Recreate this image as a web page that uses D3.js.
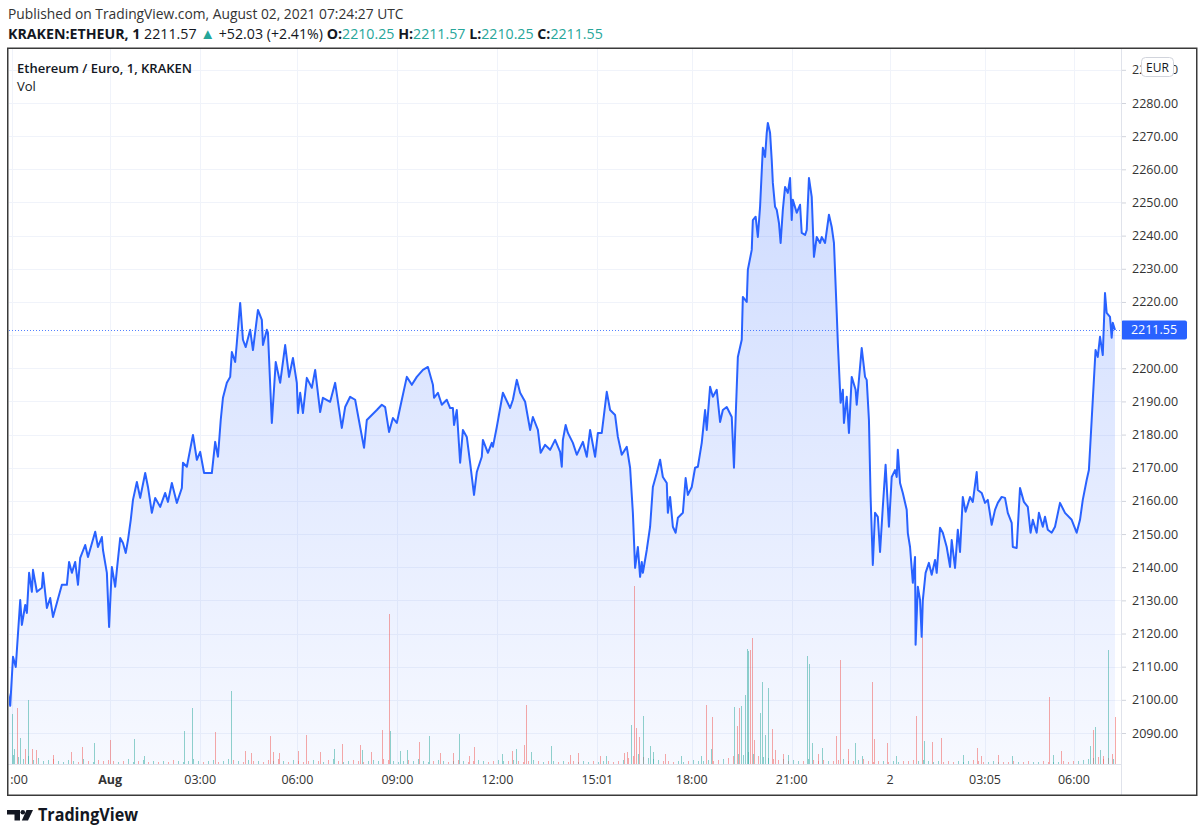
<!DOCTYPE html>
<html><head><meta charset="utf-8">
<script src="https://cdn.jsdelivr.net/npm/d3@7/dist/d3.min.js"></script>
<style>
body{margin:0;background:#fff;}
svg{display:block;font-family:"Open Sans",sans-serif;}
</style>
</head><body>
<svg id="chart" width="1200" height="837"></svg>
<script>
// ---- DATA ----
// [bar index (1-minute bars from 20:53 UTC Jul 31), close price EUR]
const ethEur = [
[0,2102.1],[4,2098.2],[9,2113.0],[14,2109.9],[22,2130.1],[25,2122.6],[31,2128.6],[34,2126.2],[38,2138.3],[43,2132.6],[45,2139.2],[52,2132.6],[61,2133.8],[63,2138.3],[70,2127.7],[76,2130.7],[81,2125.0],[97,2134.7],[106,2134.7],[110,2141.6],[115,2138.3],[121,2141.6],[126,2134.7],[130,2142.8],[139,2146.7],[144,2143.1],[157,2150.7],[162,2146.1],[169,2149.1],[171,2145.2],[178,2138.3],[182,2122.0],[187,2140.1],[193,2134.1],[196,2139.2],[202,2148.8],[207,2147.3],[212,2144.3],[216,2148.2],[221,2154.3],[225,2160.3],[232,2165.7],[238,2160.9],[247,2168.4],[252,2164.2],[259,2156.4],[265,2160.9],[274,2158.2],[283,2162.4],[288,2159.7],[295,2165.4],[304,2159.4],[313,2163.9],[315,2171.5],[322,2170.3],[333,2179.9],[340,2172.4],[346,2174.8],[353,2168.4],[367,2168.4],[373,2177.8],[378,2173.3],[383,2184.4],[387,2191.1],[394,2195.6],[400,2197.4],[403,2204.9],[409,2201.9],[412,2207.7],[418,2219.7],[423,2208.6],[428,2206.4],[436,2211.6],[441,2205.5],[450,2217.6],[457,2214.6],[459,2207.0],[466,2211.6],[468,2210.7],[475,2183.5],[482,2201.9],[490,2195.6],[499,2207.0],[506,2197.4],[513,2203.1],[520,2195.6],[522,2186.5],[526,2192.6],
[531,2186.5],[538,2197.1],[547,2194.1],[553,2199.5],[562,2186.8],[567,2191.1],[580,2189.9],[589,2195.6],[601,2182.0],[607,2188.3],[616,2191.4],[625,2190.5],[634,2182.3],[641,2176.0],[646,2184.4],[664,2187.4],[673,2189.0],[679,2188.3],[686,2180.8],[693,2185.0],[700,2183.5],[709,2190.5],[718,2197.4],[727,2195.0],[736,2197.4],[747,2199.5],[756,2200.4],[765,2195.0],[767,2191.1],[774,2192.6],[781,2189.0],[790,2190.5],[796,2188.0],[801,2188.0],[803,2182.9],[808,2187.4],[814,2171.5],[819,2181.4],[826,2179.3],[832,2171.5],[839,2161.8],[844,2168.7],[853,2173.3],[855,2178.4],[864,2174.5],[871,2177.5],[873,2176.3],[880,2182.3],[891,2192.6],[904,2188.0],[909,2190.5],[916,2196.5],[922,2192.6],[931,2189.9],[940,2181.4],[945,2185.3],[954,2181.4],[959,2174.5],[967,2176.9],[976,2175.4],[985,2178.4],[994,2174.8],[997,2170.3],[999,2178.4],[1004,2182.9],[1008,2180.5],[1017,2177.5],[1024,2173.9],[1035,2177.8],[1042,2173.3],[1048,2181.4],[1057,2173.3],[1062,2180.5],[1069,2180.5],[1078,2192.9],[1084,2187.4],[1093,2185.9],[1098,2179.3],[1105,2173.9],[1114,2176.3],[1120,2170.0],[1125,2156.4],[1129,2139.8],[1134,2146.1],[1138,2137.1],
[1141,2141.6],[1143,2138.3],[1150,2145.2],[1156,2152.2],[1161,2164.2],[1168,2168.4],[1174,2172.4],[1179,2167.2],[1186,2165.4],[1188,2156.4],[1192,2161.2],[1197,2152.2],[1202,2150.4],[1206,2154.9],[1215,2156.4],[1220,2166.9],[1224,2161.8],[1231,2164.2],[1237,2170.0],[1242,2170.3],[1249,2177.5],[1255,2187.4],[1258,2181.4],[1264,2194.4],[1269,2191.4],[1276,2193.5],[1282,2183.8],[1287,2187.4],[1294,2188.3],[1303,2185.3],[1307,2170.0],[1310,2185.0],[1314,2203.4],[1321,2208.6],[1323,2221.5],[1330,2220.0],[1332,2229.7],[1339,2235.7],[1341,2244.7],[1346,2245.7],[1350,2239.6],[1354,2248.7],[1359,2266.5],[1363,2263.7],[1366,2271.0],[1368,2274.0],[1372,2271.0],[1375,2262.8],[1377,2255.9],[1381,2248.7],[1384,2247.8],[1388,2243.8],[1391,2237.8],[1395,2247.8],[1399,2254.7],[1404,2252.9],[1408,2257.4],[1411,2244.7],[1413,2250.8],[1420,2246.9],[1426,2249.3],[1429,2240.8],[1435,2240.2],[1438,2241.7],[1442,2257.4],[1447,2251.7],[1451,2233.6],[1456,2239.6],[1462,2237.8],[1465,2239.6],[1471,2237.8],[1478,2246.3],[1483,2242.6],[1487,2237.8],[1492,2216.7],[1494,2207.7],[1499,2189.6],[1503,2193.5],[1505,2183.5],[1510,2191.4],[1514,2180.5],[1519,2197.4],[1526,2193.5],[1528,2189.0],[1537,2206.1],[1543,2197.4],[1546,2196.5],[1550,2184.4],[1553,2161.2],[1557,2140.7],[1561,2156.4],[1566,2155.2],[1570,2144.6],[1575,2158.2],[1580,2170.9],[1586,2152.2],[1591,2167.2],[1597,2169.3],[1600,2167.2],[1602,2175.4],[1606,2165.4],[1611,2162.4],[1618,2157.3],[1620,2150.3],[1624,2146.1],[1629,2135.3],[1633,2143.1],[1634,2116.6],[1638,2134.1],[1642,2130.1],[1645,2119.0],[1647,2130.1],[1652,2138.3],[1658,2141.3],[1663,2137.7],[1669,2142.2],[1672,2138.3],[1678,2151.9],[1683,2150.4],[1690,2146.1],[1696,2140.1],[1699,2148.2],[1705,2139.8],[1710,2151.3],[1714,2144.6],[1719,2161.2],[1724,2156.7],[1732,2161.2],[1737,2159.7],[1744,2168.7],[1746,2163.3],[1753,2162.4],[1759,2159.4],[1764,2160.3],[1771,2152.8],[1777,2157.3],[1782,2159.4],[1789,2161.2],[1795,2160.9],[1800,2156.4],[1807,2153.4],[1809,2146.1],[1816,2145.8],[1822,2163.9],[1829,2159.7],[1836,2158.2],[1841,2150.4],[1845,2154.3],[1852,2150.4],[1856,2156.4],[1863,2152.2],[1867,2155.2],[1872,2151.3],[1879,2150.4],[1885,2152.2],[1894,2159.4],[1903,2156.4],[1915,2154.3],[1924,2150.4],[1930,2154.3],[1935,2160.3],[1942,2166.3],[1946,2169.3],[1951,2184.4],[1955,2196.5],[1958,2205.5],[1962,2203.4],[1966,2209.5],[1971,2204.0],[1975,2222.7],[1978,2216.7],[1984,2215.5],[1987,2209.2],[1989,2213.7],[1993,2211.55]
];

// notable volume bars: [bar index, volume, up(1)/down(0)]
const volumeBig = [
[7,50,1],[11,15,1],[16,56,0],[22,26,1],[31,15,0],[36,64,1],[43,15,0],[50,14,0],[81,9,0],[113,12,0],[133,17,0],[155,21,1],[184,24,0],[227,25,1],[245,8,1],[317,33,1],[331,56,1],[373,32,0],[401,73,1],[427,13,0],[437,11,0],[472,28,0],[477,12,0],[488,11,0],[522,13,0],[536,29,0],[562,12,0],[587,15,1],[601,20,0],[634,19,0],[637,14,1],[653,12,0],
[673,34,0],[686,150,0],[688,33,1],[706,13,1],[718,14,1],[740,22,0],[758,28,1],[778,11,0],[801,11,0],[812,30,1],[830,8,0],[839,17,0],[889,10,1],[907,13,0],[914,15,1],[929,19,0],[932,59,0],[941,12,1],[977,18,1],[1012,9,0],[1026,11,0],[1066,8,0],[1076,8,1],[1109,11,0],[1114,12,0],[1121,39,1],[1127,178,0],[1130,36,0],[1136,27,0],[1143,48,1],[1156,18,1],[1161,12,1],[1183,10,0],[1211,8,1],[1247,8,1],[1256,59,0],[1265,15,1],[1267,47,0],
[1307,57,1],[1312,38,0],[1316,56,0],[1319,58,1],[1327,69,1],[1330,115,1],[1332,113,1],[1336,114,0],[1339,126,0],[1343,24,0],[1354,51,1],[1357,82,1],[1363,29,1],[1368,76,1],[1375,35,0],[1381,14,0],[1395,10,0],[1404,9,1],[1438,108,1],[1442,100,1],[1447,21,1],[1458,10,0],[1465,16,1],[1490,28,0],[1498,104,0],[1512,15,0],[1525,21,1],[1537,8,1],[1555,82,0],[1559,25,0],[1582,21,0],[1598,8,1],
[1634,48,0],[1645,127,0],[1649,23,1],[1663,22,0],[1679,26,0],[1719,9,1],[1744,16,0],[1751,8,0],[1782,9,0],[1807,8,1],[1874,67,0],[1881,9,1],[1895,13,0],[1948,18,1],[1953,34,0],[1957,37,1],[1966,14,1],[1971,8,0],[1980,114,1],[1987,10,0],[1993,47,0]
];

// background volume, one value every 9 bars starting at bar 0
const volumeSmall = [
6,9,7,5,8,4,6,3,4,5, 3,2,4,3,2,5,3,2,4,3, 4,3,2,3,5,2,3,4,2,3, 2,3,2,4,3,2,3,5,3,2,
3,4,2,3,5,4,3,2,4,3, 3,2,4,3,5,3,2,4,3,2, 3,4,3,2,4,5,3,2,3,4, 3,2,3,4,3,5,4,3,2,3,
4,3,5,3,2,3,4,3,2,3, 4,3,2,3,4,3,2,3,4,3, 3,4,3,2,3,4,3,2,3,3, 2,3,2,3,2,3,2,3,2,3,
3,2,3,4,6,8,10,7,6,5, 4,3,3,2,3,2,3,4,3,3, 4,3,4,5,6,8,10,9,12,10, 8,7,6,5,4,5,3,4,3,3,
5,4,3,4,3,3,4,5,3,3, 4,5,3,2,3,3,2,3,2,3, 3,4,3,4,3,2,3,2,3,2, 3,2,3,4,3,2,2,3,2,2,
2,3,2,2,3,2,2,3,2,2, 2,3,2,3,3,4,5,6,7,5, 6,5
];
const smallStep = 9;

const timeTickBars   = [7, 184, 346, 521, 701, 881, 1061, 1231, 1411, 1588, 1759, 1919];
const timeTickLabels = ["21:00","Aug","03:00","06:00","09:00","12:00","15:01","18:00","21:00","2","03:05","06:00"];
const boldTimeLabels = ["Aug"];
const priceTicks = [2090,2100,2110,2120,2130,2140,2150,2160,2170,2180,2190,2200,2210,2220,2230,2240,2250,2260,2270,2280,2290];
const lastPrice = 2211.55;
const ohlc = {O:"2210.25", H:"2211.57", L:"2210.25", C:"2211.55"};
const quote = {last:"2211.57", change:"+52.03 (+2.41%)"};

// ---- LAYOUT ----
const L = 8, R = 1121, T = 49, B = 764, FR = 1197, FB = 796;
const svg = d3.select("#chart");
const x = d3.scaleLinear().domain([0, 1993]).range([8, 1115]);
const y = d3.scaleLinear().domain([2090, 2280]).range([733, 103]);
const yv = d3.scaleLinear().domain([0, 200]).range([B, B - 200]);

const UP = "rgba(38,166,154,0.5)", DOWN = "rgba(239,83,80,0.5)", BLUE = "#2962ff";

const defs = svg.append("defs");
defs.append("clipPath").attr("id","plot").append("rect")
  .attr("x", L+1).attr("y", T).attr("width", R-L-1).attr("height", B-T);
defs.append("clipPath").attr("id","taxis").append("rect")
  .attr("x", L+1).attr("y", B).attr("width", R-L-1).attr("height", FB-B);
const grad = defs.append("linearGradient").attr("id","areaGrad")
  .attr("gradientUnits","userSpaceOnUse").attr("x1",0).attr("x2",0)
  .attr("y1", y(d3.max(ethEur, d=>d[1]))).attr("y2", B);
grad.append("stop").attr("offset",0).attr("stop-color","rgba(41,98,255,0.24)");
grad.append("stop").attr("offset",1).attr("stop-color","rgba(41,98,255,0.04)");

// header
svg.append("text").attr("x",8).attr("y",19).attr("font-size",13.8).attr("fill","#333")
  .text("Published on TradingView.com, August 02, 2021 07:24:27 UTC");
const h2 = svg.append("text").attr("x",8).attr("y",39).attr("font-size",14.2).attr("fill","#131722");
h2.append("tspan").attr("font-weight",700).text("KRAKEN:ETHEUR, 1 ");
h2.append("tspan").text(quote.last + " ");
h2.append("tspan").attr("fill","#26a69a").attr("font-size",15).text("▲");
h2.append("tspan").text(" " + quote.change + " ");
Object.entries(ohlc).forEach(([k,v]) => {
  h2.append("tspan").attr("font-weight",700).text(k + ":");
  h2.append("tspan").attr("fill","#26a69a").text(v + " ");
});

// grid
const plot = svg.append("g");
plot.selectAll("line.hg").data(priceTicks).join("line")
  .attr("x1", L+1).attr("x2", R).attr("y1", d=>Math.round(y(d))+0.5).attr("y2", d=>Math.round(y(d))+0.5)
  .attr("stroke","#f0f3fa").attr("stroke-width",1);
plot.selectAll("line.vg").data(timeTickBars).join("line")
  .attr("x1", d=>Math.round(x(d))+0.5).attr("x2", d=>Math.round(x(d))+0.5).attr("y1", T).attr("y2", B)
  .attr("stroke","#f0f3fa").attr("stroke-width",1);

const clipG = svg.append("g").attr("clip-path","url(#plot)");

// area
clipG.append("path").datum(ethEur)
  .attr("d", d3.area().x(d=>x(d[0])).y0(B).y1(d=>y(d[1])))
  .attr("fill","url(#areaGrad)");

// volume
const bis = d3.bisector(d=>d[0]).left;
function isUp(bar){
  let i = bis(ethEur, bar); if (i < 1) i = 1; if (i >= ethEur.length) i = ethEur.length-1;
  return ethEur[i][1] >= ethEur[i-1][1];
}
const vg = clipG.append("g").attr("shape-rendering","crispEdges");
vg.selectAll("rect.vs").data(volumeSmall).join("rect")
  .attr("x", (d,i)=>Math.round(x(i*smallStep))).attr("width",1)
  .attr("y", d=>yv(d)).attr("height", d=>B-yv(d))
  .attr("fill", (d,i)=>isUp(i*smallStep)?UP:DOWN);
vg.selectAll("rect.vb").data(volumeBig).join("rect")
  .attr("x", d=>Math.round(x(d[0]))).attr("width",1)
  .attr("y", d=>yv(d[1])).attr("height", d=>B-yv(d[1]))
  .attr("fill", d=>d[2]?UP:DOWN);

// last price dotted line
svg.append("line").attr("x1",L+1).attr("x2",R).attr("y1",Math.round(y(lastPrice))+0.5).attr("y2",Math.round(y(lastPrice))+0.5)
  .attr("stroke",BLUE).attr("stroke-width",1).attr("stroke-dasharray","1,2").attr("opacity",0.8);

// line
clipG.append("path").datum(ethEur)
  .attr("d", d3.line().x(d=>x(d[0])).y(d=>y(d[1])))
  .attr("fill","none").attr("stroke",BLUE).attr("stroke-width",2).attr("stroke-linejoin","round");

// legend inside chart
svg.append("text").attr("x",17).attr("y",73).attr("font-size",13).attr("font-weight",600).attr("fill","#131722")
  .text("Ethereum / Euro, 1, KRAKEN");
svg.append("text").attr("x",17).attr("y",91).attr("font-size",13).attr("fill","#131722").text("Vol");

// price axis (labels hidden by the last-price marker are not drawn, as in the reference)
const pa = svg.append("g").attr("transform",`translate(${R},0)`)
  .call(d3.axisRight(y).tickValues(priceTicks).tickFormat(d3.format(".2f")).tickSize(5).tickPadding(6));
pa.select(".domain").remove();
pa.selectAll(".tick line").attr("stroke","#d1d4dc");
pa.selectAll(".tick text").attr("font-family","Open Sans, sans-serif").attr("font-size",12.5).attr("fill","#333");
pa.selectAll(".tick").filter(d=>y(d) < T || y(d) > B).remove();
pa.selectAll(".tick").filter(d=>Math.abs(y(d) - y(lastPrice)) < 10).select("text").remove();

// EUR badge
svg.append("rect").attr("x",1141.5).attr("y",57.5).attr("width",32).attr("height",19).attr("rx",4)
  .attr("fill","#fff").attr("stroke","#d1d4dc");
svg.append("text").attr("x",1157.5).attr("y",71.5).attr("text-anchor","middle").attr("font-size",12).attr("fill","#131722").text("EUR");

// last price label
svg.append("rect").attr("x",R).attr("y",y(lastPrice)-9.5).attr("width",66).attr("height",19).attr("rx",2).attr("fill",BLUE);
svg.append("text").attr("x",R+33).attr("y",y(lastPrice)+4.5).attr("text-anchor","middle").attr("font-size",12.5)
  .attr("fill","#fff").text(lastPrice.toFixed(2));

// time axis
const ta = svg.append("g").attr("clip-path","url(#taxis)");
ta.selectAll("text").data(timeTickBars).join("text")
  .attr("x", d=>x(d)).attr("y", 784).attr("text-anchor","middle").attr("font-size",12.5).attr("fill","#333")
  .attr("font-weight", (d,i)=>boldTimeLabels.includes(timeTickLabels[i])?700:400)
  .text((d,i)=>timeTickLabels[i]);

// separators and frame
svg.append("line").attr("x1",L).attr("x2",R).attr("y1",B+0.5).attr("y2",B+0.5).attr("stroke","#e0e3eb");
svg.append("line").attr("x1",R+0.5).attr("x2",R+0.5).attr("y1",T).attr("y2",FB).attr("stroke","#e0e3eb");
svg.append("rect").attr("x",L-0.25).attr("y",T-0.75).attr("width",FR-L).attr("height",FB-T)
  .attr("fill","none").attr("stroke","#3a3a3a").attr("stroke-width",1.5);

// TradingView logo
const logo = svg.append("g").attr("fill","#131722");
logo.append("path").attr("d","M7 810 H20 V820.5 H14.5 V814.5 H7 Z");
logo.append("circle").attr("cx",22.8).attr("cy",812.2).attr("r",2.3);
logo.append("path").attr("d","M26.5 810 H33 L28 820.5 H21.8 Z");
svg.append("text").attr("x",38).attr("y",820.5).attr("font-size",17).attr("font-weight",700).attr("fill","#131722")
  .attr("textLength",100).attr("lengthAdjust","spacingAndGlyphs").text("TradingView");
</script>
</body></html>
